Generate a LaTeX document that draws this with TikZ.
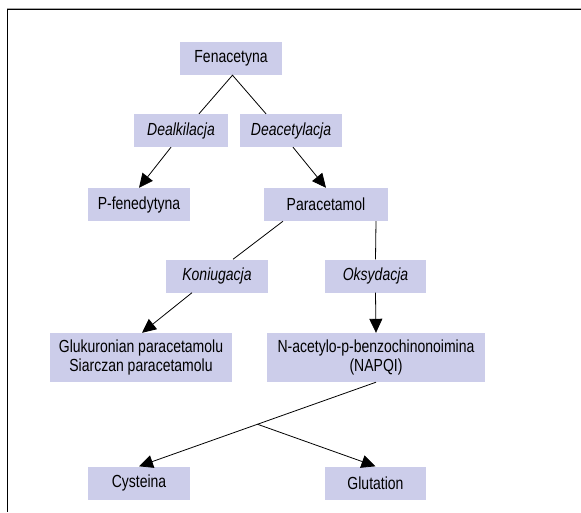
\documentclass[tikz,border=0pt]{standalone}
\usepackage{fontspec}
\setmainfont{Liberation Sans}[FakeStretch=0.8]
\usepackage{tikz}
\usetikzlibrary{arrows.meta}
\usetikzlibrary{calc}

\definecolor{boxfill}{RGB}{204,205,234}
\tikzset{
	box/.style={fill=boxfill, minimum width=102pt, minimum height=33pt, inner sep=0pt, align=center, font=\fontsize{17.5}{19.5}\selectfont},
	act/.style={box, font=\fontsize{17.5}{19.5}\selectfont\itshape},
	conn/.style={line width=0.8pt},
	arr/.style={conn, -{Triangle[length=14pt,width=13pt]}}
}

\begin{document}
\begin{tikzpicture}[x=1pt,y=-1pt]
		\useasboundingbox (0,0) rectangle (581,512);
		% frame
		\draw[gray!70, line width=1pt] (7,8) -- (581,8);
		\draw[line width=1.6pt] (581,9.6) -- (7.6,9.6) -- (7.6,512);
		
		\node[box] (fen) at (231,58.5) {Fenacetyna};
		\node[act, minimum width=94pt] (deal) at (181,130.5) {Dealkilacja};
		\node[act] (deac) at (291,130.5) {Deacetylacja};
		\node[box] (pfen) at (139,204.5) {P-fenedytyna};
		\node[box, minimum width=124pt] (para) at (326,204.5) {Paracetamol};
		\node[act] (koni) at (217,276) {Koniugacja};
		\node[act, minimum width=101pt] (oksy) at (375.5,276) {Oksydacja};
		\node[box, minimum width=182pt, minimum height=49pt] (gluk) at (141,357.5) {Glukuronian paracetamolu\\Siarczan paracetamolu};
		\node[box, minimum width=218pt, minimum height=49pt] (napqi) at (376,357.5) {N-acetylo-p-benzochinonoimina\\(NAPQI)};
		\node[box] (cys) at (139,483) {Cysteina};
		\node[box, minimum width=101pt] (glut) at (375.5,483) {Glutation};
		
		\draw[conn] ([xshift=18pt]deal.north) -- ([xshift=1.5pt]fen.south) -- ([xshift=-25pt]deac.north);
		\draw[arr] ([xshift=-10pt]deal.south) -- (pfen.north);
		\draw[arr] ([xshift=2pt]deac.south) -- (para.north);
		\draw[conn] ([xshift=-43pt]para.south) -- ([xshift=16pt]koni.north);
		\draw[arr] ([xshift=-25pt]koni.south) -- ([xshift=1pt]gluk.north);
		\draw[conn] ([xshift=50pt]para.south) -- (oksy.north);
		\draw[arr] (oksy.south) -- (napqi.north);
		\coordinate (br) at ($(napqi.south)!0.5!(cys.north)$);
		\draw[arr] (napqi.south) -- (cys.north);
		\draw[arr] (br) -- (glut.north);
\end{tikzpicture}
\end{document}
